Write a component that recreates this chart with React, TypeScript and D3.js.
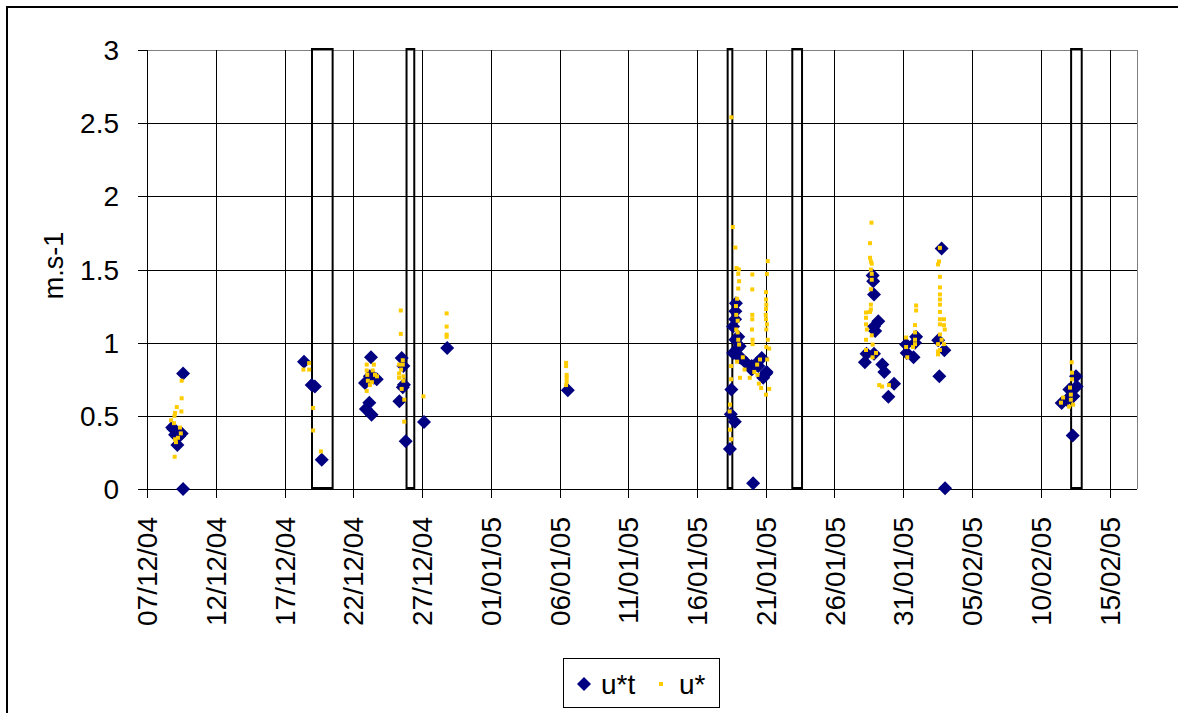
import React from "react";
import * as d3 from "d3";

const W = 1178;
const H = 713;

const xDomain = ["2004-12-07 00:00", "2005-02-17 00:00"];
const yTicks = [0, 0.5, 1, 1.5, 2, 2.5, 3];
const yLabel = "m.s-1";
const seriesNames = ["u*t", "u*"];

const ustarT: [string, number][] = [
  ["2004-12-08 22:00", 0.41], ["2004-12-08 20:00", 0.42], ["2004-12-09 01:00", 0.37],
  ["2004-12-09 08:00", 0.36], ["2004-12-09 12:30", 0.38], ["2004-12-09 05:00", 0.30],
  ["2004-12-09 15:00", 0.79], ["2004-12-09 15:00", 0.0],
  ["2004-12-18 10:00", 0.87], ["2004-12-18 23:30", 0.71], ["2004-12-19 05:00", 0.70],
  ["2004-12-19 17:00", 0.20],
  ["2004-12-23 07:00", 0.90], ["2004-12-23 05:00", 0.77], ["2004-12-23 17:00", 0.75],
  ["2004-12-23 12:00", 0.76], ["2004-12-22 20:30", 0.725], ["2004-12-23 04:00", 0.59],
  ["2004-12-22 22:00", 0.547], ["2004-12-23 08:00", 0.508],
  ["2004-12-25 12:30", 0.896], ["2004-12-25 15:30", 0.84], ["2004-12-25 16:30", 0.713],
  ["2004-12-25 14:30", 0.695], ["2004-12-25 08:30", 0.60], ["2004-12-25 19:30", 0.326],
  ["2004-12-27 03:30", 0.458],
  ["2004-12-28 20:00", 0.964],
  ["2005-01-06 14:30", 0.675],
  ["2005-01-18 20:00", 1.27], ["2005-01-18 19:00", 1.215], ["2005-01-18 18:30", 1.16],
  ["2005-01-18 15:00", 1.11], ["2005-01-18 19:00", 1.02], ["2005-01-19 00:00", 1.04],
  ["2005-01-18 15:00", 0.93], ["2005-01-18 23:00", 0.96], ["2005-01-19 02:30", 0.975],
  ["2005-01-19 02:00", 0.90], ["2005-01-19 05:00", 0.896], ["2005-01-19 14:30", 0.86],
  ["2005-01-19 23:30", 0.816], ["2005-01-19 23:30", 0.84], ["2005-01-20 11:00", 0.84],
  ["2005-01-20 08:00", 0.86], ["2005-01-20 17:00", 0.896], ["2005-01-20 19:30", 0.76],
  ["2005-01-21 01:30", 0.80], ["2005-01-21 00:30", 0.79],
  ["2005-01-18 12:00", 0.68], ["2005-01-18 18:00", 0.46], ["2005-01-18 11:00", 0.51],
  ["2005-01-18 09:30", 0.274], ["2005-01-20 02:00", 0.04],
  ["2005-01-28 18:30", 1.459], ["2005-01-28 19:30", 1.42], ["2005-01-28 21:00", 1.33],
  ["2005-01-29 04:30", 1.146], ["2005-01-28 21:00", 1.11], ["2005-01-28 23:00", 1.08],
  ["2005-01-28 08:00", 0.925], ["2005-01-28 21:00", 0.925], ["2005-01-28 05:00", 0.866],
  ["2005-01-29 11:30", 0.85], ["2005-01-29 15:00", 0.80], ["2005-01-30 08:00", 0.72],
  ["2005-01-29 22:00", 0.63],
  ["2005-01-31 05:00", 0.987], ["2005-01-31 06:00", 0.93], ["2005-01-31 22:30", 1.04],
  ["2005-01-31 20:30", 1.0], ["2005-01-31 18:00", 0.90],
  ["2005-02-02 19:00", 1.643], ["2005-02-02 13:00", 1.016], ["2005-02-02 23:45", 0.948],
  ["2005-02-02 15:00", 0.77], ["2005-02-03 01:00", 0.005],
  ["2005-02-12 13:30", 0.77], ["2005-02-12 14:40", 0.70], ["2005-02-12 02:00", 0.68],
  ["2005-02-12 09:00", 0.633], ["2005-02-11 12:30", 0.588], ["2005-02-11 21:30", 0.61],
  ["2005-02-12 07:45", 0.365],
];

const ustar: [string, number][] = [
  ["2004-12-09 12:30", 0.74], ["2004-12-09 12:30", 0.62], ["2004-12-09 12:00", 0.53],
  ["2004-12-09 04:00", 0.56], ["2004-12-09 01:00", 0.52], ["2004-12-09 00:00", 0.50],
  ["2004-12-08 18:00", 0.47], ["2004-12-08 23:00", 0.45], ["2004-12-09 09:30", 0.42],
  ["2004-12-09 11:00", 0.38], ["2004-12-09 06:00", 0.35], ["2004-12-09 01:00", 0.34],
  ["2004-12-09 02:30", 0.32], ["2004-12-09 00:15", 0.22],
  ["2004-12-18 19:00", 0.86], ["2004-12-18 09:00", 0.816], ["2004-12-18 19:00", 0.816],
  ["2004-12-19 02:00", 0.554], ["2004-12-19 02:00", 0.40], ["2004-12-19 15:30", 0.257],
  ["2004-12-22 23:30", 0.85], ["2004-12-23 12:00", 0.85], ["2004-12-22 23:30", 0.81],
  ["2004-12-23 10:00", 0.81], ["2004-12-23 00:30", 0.78], ["2004-12-23 14:00", 0.78],
  ["2004-12-23 05:00", 0.71], ["2004-12-22 23:30", 0.67], ["2004-12-23 01:30", 0.74],
  ["2004-12-23 08:30", 0.73], ["2004-12-23 17:30", 0.77],
  ["2004-12-25 11:00", 1.22], ["2004-12-25 11:00", 1.06], ["2004-12-25 14:30", 0.88],
  ["2004-12-25 14:30", 0.85], ["2004-12-25 11:30", 0.816], ["2004-12-25 08:00", 0.85],
  ["2004-12-25 08:00", 0.76], ["2004-12-25 08:00", 0.79], ["2004-12-25 15:30", 0.77],
  ["2004-12-25 15:30", 0.74], ["2004-12-25 12:30", 0.684], ["2004-12-25 17:00", 0.61],
  ["2004-12-25 17:00", 0.46], ["2004-12-27 02:30", 0.633],
  ["2004-12-28 19:00", 1.20], ["2004-12-28 19:00", 1.11], ["2004-12-28 19:00", 1.055],
  ["2004-12-28 19:00", 1.04],
  ["2005-01-06 11:30", 0.862], ["2005-01-06 11:30", 0.84], ["2005-01-06 12:30", 0.78],
  ["2005-01-06 12:30", 0.76], ["2005-01-06 12:30", 0.735], ["2005-01-06 11:30", 0.71],
  ["2005-01-18 12:00", 2.54], ["2005-01-18 14:30", 1.79], ["2005-01-18 19:00", 1.65],
  ["2005-01-19 01:00", 1.50], ["2005-01-18 21:00", 1.51], ["2005-01-19 00:00", 1.47],
  ["2005-01-19 01:30", 1.42], ["2005-01-19 00:00", 1.37], ["2005-01-18 22:00", 1.30],
  ["2005-01-18 20:00", 1.25], ["2005-01-18 20:30", 1.19], ["2005-01-18 23:00", 1.15],
  ["2005-01-18 20:30", 1.09], ["2005-01-18 23:00", 1.07], ["2005-01-19 00:00", 1.02],
  ["2005-01-19 01:30", 0.987], ["2005-01-18 22:00", 0.87], ["2005-01-19 03:00", 0.76],
  ["2005-01-19 11:00", 0.816], ["2005-01-20 09:30", 0.78], ["2005-01-20 16:00", 0.69],
  ["2005-01-21 00:30", 0.645], ["2005-01-19 08:00", 0.90], ["2005-01-20 04:00", 0.80],
  ["2005-01-19 20:00", 0.76], ["2005-01-20 12:00", 0.72],
  ["2005-01-21 03:30", 1.557], ["2005-01-21 02:00", 1.47], ["2005-01-21 00:30", 1.345],
  ["2005-01-21 00:30", 1.295], ["2005-01-21 01:00", 1.26], ["2005-01-21 00:30", 1.23],
  ["2005-01-21 00:00", 1.19], ["2005-01-21 00:30", 1.16], ["2005-01-21 02:00", 1.125],
  ["2005-01-21 01:00", 1.09], ["2005-01-21 03:30", 1.02], ["2005-01-21 06:00", 0.96],
  ["2005-01-21 01:00", 0.97], ["2005-01-21 02:30", 0.885], ["2005-01-21 06:00", 0.684],
  ["2005-01-20 00:30", 1.466], ["2005-01-20 00:30", 1.364], ["2005-01-20 00:30", 1.19],
  ["2005-01-20 00:30", 1.16], ["2005-01-20 00:00", 1.09], ["2005-01-20 01:00", 1.02],
  ["2005-01-20 01:00", 0.99], ["2005-01-20 14:00", 0.885], ["2005-01-20 09:00", 0.85],
  ["2005-01-18 11:30", 0.84], ["2005-01-18 11:30", 0.75], ["2005-01-18 09:30", 0.577],
  ["2005-01-18 09:00", 0.53], ["2005-01-18 09:30", 0.405], ["2005-01-18 11:30", 0.34],
  ["2005-01-28 16:30", 1.82], ["2005-01-28 14:00", 1.68], ["2005-01-28 14:00", 1.58],
  ["2005-01-28 15:30", 1.555], ["2005-01-28 17:00", 1.54], ["2005-01-28 15:30", 1.50],
  ["2005-01-28 17:00", 1.47], ["2005-01-28 17:00", 1.43], ["2005-01-28 15:30", 1.365],
  ["2005-01-28 15:30", 1.26], ["2005-01-28 15:30", 1.227], ["2005-01-28 14:00", 1.21],
  ["2005-01-28 07:00", 1.206], ["2005-01-28 07:00", 1.17], ["2005-01-28 07:00", 1.125],
  ["2005-01-28 08:30", 1.09], ["2005-01-28 17:00", 1.05], ["2005-01-28 18:30", 0.987],
  ["2005-01-28 07:00", 1.02], ["2005-01-28 07:00", 0.95], ["2005-01-28 18:30", 0.90],
  ["2005-01-29 00:30", 0.93], ["2005-01-29 06:00", 0.71], ["2005-01-29 11:00", 0.70],
  ["2005-01-29 23:00", 0.71],
  ["2005-01-31 22:30", 1.254], ["2005-01-31 22:30", 1.22], ["2005-01-31 20:30", 1.12],
  ["2005-01-31 20:30", 1.07], ["2005-01-31 20:30", 1.02], ["2005-01-31 20:30", 0.99],
  ["2005-01-31 05:00", 1.035], ["2005-01-31 05:00", 0.97], ["2005-01-31 07:00", 0.90],
  ["2005-01-31 17:00", 0.97],
  ["2005-02-02 16:00", 1.648], ["2005-02-02 14:30", 1.555], ["2005-02-02 12:45", 1.535],
  ["2005-02-02 16:00", 1.45], ["2005-02-02 16:00", 1.378], ["2005-02-02 16:00", 1.33],
  ["2005-02-02 16:00", 1.295], ["2005-02-02 16:00", 1.26], ["2005-02-02 16:00", 1.21],
  ["2005-02-02 16:00", 1.16], ["2005-02-02 16:00", 1.125], ["2005-02-02 16:00", 1.056],
  ["2005-02-02 23:00", 1.16], ["2005-02-02 23:00", 1.12], ["2005-02-03 00:30", 1.09],
  ["2005-02-02 19:00", 1.02], ["2005-02-02 23:00", 0.99], ["2005-02-02 12:45", 0.99],
  ["2005-02-02 16:00", 0.95], ["2005-02-02 12:45", 0.94], ["2005-02-02 12:45", 0.92],
  ["2005-02-12 06:00", 0.866], ["2005-02-12 06:30", 0.795], ["2005-02-12 06:30", 0.75],
  ["2005-02-12 03:00", 0.693], ["2005-02-12 04:30", 0.645], ["2005-02-12 04:30", 0.61],
  ["2005-02-11 15:00", 0.625], ["2005-02-11 11:15", 0.59], ["2005-02-12 08:30", 0.577],
  ["2005-02-12 01:30", 0.563],
];

const gapStarts = ["2004-12-19 00:00", "2004-12-25 21:00", "2005-01-18 05:30", "2005-01-22 22:20", "2005-02-12 05:00"];
const gapEnds = ["2004-12-20 12:00", "2004-12-26 10:30", "2005-01-18 13:40", "2005-01-23 15:20", "2005-02-12 23:30"];

const parse = d3.timeParse("%Y-%m-%d %H:%M");
const fmt = d3.timeFormat("%d/%m/%y");

const FONT = "'Liberation Sans', Arial, sans-serif";
const NAVY = "#000080";
const GOLD = "#FFCC00";

export default function App() {
  const left = 147, right = 1137, top = 50, bottom = 489;
  const x = d3.scaleTime().domain(xDomain.map((s) => parse(s) as Date)).range([left, right]);
  const y = d3.scaleLinear().domain([0, 3]).range([bottom, top]);
  const xTicks = d3.timeDay.range(x.domain()[0], x.domain()[1], 5);

  const diamond = d3.symbol(d3.symbolSquare, 98)()!;
  const dot = d3.symbol(d3.symbolSquare, 16)()!;
  const cx = (v: number) => Math.round(v) + 0.5;

  return (
    <svg width={W} height={H} style={{ position: "absolute", left: 0, top: 0, background: "#fff" }} fontFamily={FONT}>
      <rect x={7} y={7} width={1300} height={900} fill="#fff" stroke="#000" strokeWidth={2} />
      {yTicks.map((t) => (
        <line key={"h" + t} x1={left} x2={right} y1={cx(y(t))} y2={cx(y(t))} stroke={t === 3 ? "#808080" : "#000"} strokeWidth={1} />
      ))}
      {xTicks.slice(1).map((t, i) => (
        <line key={"v" + i} x1={cx(x(t))} x2={cx(x(t))} y1={top} y2={bottom} stroke="#000" strokeWidth={1} />
      ))}
      <line x1={cx(right)} x2={cx(right)} y1={top} y2={bottom} stroke="#808080" strokeWidth={1} />
      <line x1={cx(left)} x2={cx(left)} y1={top} y2={bottom} stroke="#000" strokeWidth={1} />
      <line x1={left} x2={right} y1={cx(bottom)} y2={cx(bottom)} stroke="#000" strokeWidth={1} />
      {yTicks.map((t) => (
        <g key={"yt" + t}>
          <line x1={left - 9} x2={left} y1={cx(y(t))} y2={cx(y(t))} stroke="#000" />
          <text x={119} y={y(t)} dy="0.36em" textAnchor="end" fontSize={28} fill="#000">{t}</text>
        </g>
      ))}
      {xTicks.map((t, i) => (
        <g key={"xt" + i}>
          <line x1={cx(x(t))} x2={cx(x(t))} y1={bottom} y2={bottom + 9} stroke="#000" />
          <text transform={`translate(${x(t)},517) rotate(-90)`} dy="0.36em" textAnchor="end" fontSize={28} fill="#000">{fmt(t)}</text>
        </g>
      ))}
      <text transform={`translate(53,${(top + bottom) / 2 - 4}) rotate(-90)`} dy="0.36em" textAnchor="middle" fontSize={27} fill="#000">{yLabel}</text>
      {gapStarts.map((s, i) => {
        const x0 = x(parse(s) as Date), x1 = x(parse(gapEnds[i]) as Date);
        return <rect key={"g" + i} x={x0} y={y(3) - 1} width={x1 - x0} height={y(0) - y(3)} fill="none" stroke="#000" strokeWidth={2} />;
      })}
      {ustarT.map(([d, v], i) => (
        <path key={"t" + i} d={diamond} transform={`translate(${x(parse(d) as Date)},${y(v)}) rotate(45)`} fill={NAVY} />
      ))}
      {ustar.map(([d, v], i) => (
        <path key={"u" + i} d={dot} transform={`translate(${x(parse(d) as Date)},${y(v)})`} fill={GOLD} />
      ))}
      <rect x={563.5} y={658.5} width={156} height={49} fill="#fff" stroke="#000" strokeWidth={1} />
      <path d={diamond} transform="translate(584,684) rotate(45)" fill={NAVY} />
      <text x={601} y={684} dy="0.36em" fontSize={28} fill="#000">{seriesNames[0]}</text>
      <path d={dot} transform="translate(661,684)" fill={GOLD} />
      <text x={679} y={684} dy="0.36em" fontSize={28} fill="#000">{seriesNames[1]}</text>
    </svg>
  );
}
